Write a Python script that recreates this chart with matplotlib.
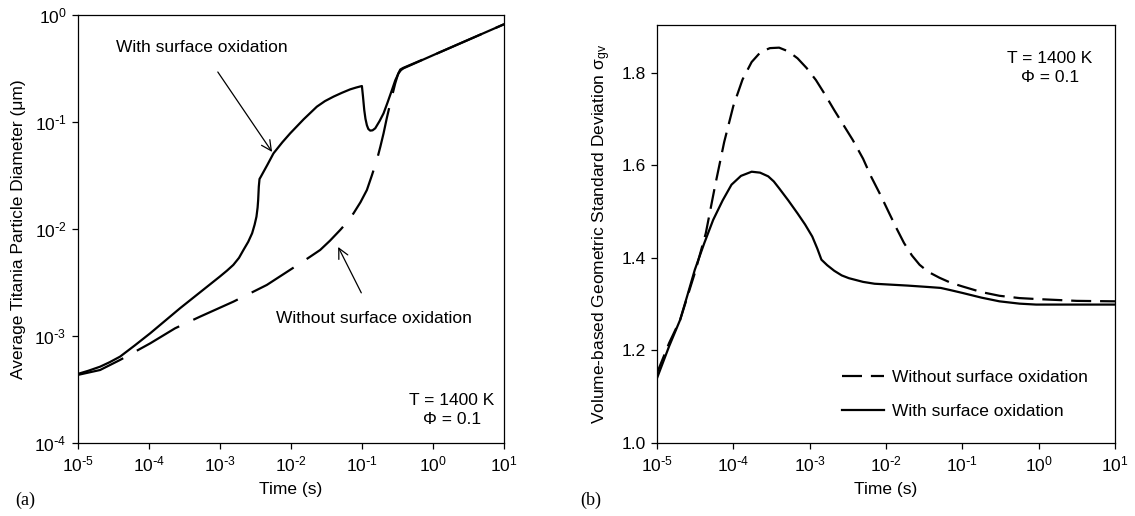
import numpy as np
import matplotlib
matplotlib.use("Agg")
import matplotlib.pyplot as plt
from matplotlib.ticker import FixedLocator, FuncFormatter, NullLocator

plt.rcParams['font.family'] = ['Liberation Sans', 'DejaVu Sans']
plt.rcParams['mathtext.default'] = 'regular'
plt.rcParams['axes.unicode_minus'] = False

# ---------------- data ----------------
# Panel (a): log10(time / s), log10(diameter / um)
a_with_logt = [-5.0, -4.85, -4.685, -4.55, -4.404, -4.2, -3.98, -3.56, -3.0, -2.9, -2.81,
               -2.73, -2.667, -2.6, -2.545, -2.51, -2.484, -2.468, -2.46, -2.451, -2.441,
               -2.427, -2.33, -2.244, -2.12, -2.009, -1.82, -1.634, -1.52, -1.399, -1.28,
               -1.164, -1.08, -1.0, -0.985, -0.967, -0.95, -0.93, -0.91, -0.883, -0.85,
               -0.812, -0.75, -0.695, -0.64, -0.577, -0.53, -0.484, -0.45, -0.413, 0.009, 1.0]
a_with_logd = [-3.355, -3.325, -3.287, -3.245, -3.193, -3.09, -2.975, -2.741, -2.445, -2.39,
               -2.336, -2.27, -2.196, -2.12, -2.04, -1.96, -1.885, -1.80, -1.729, -1.604,
               -1.533, -1.517, -1.40, -1.293, -1.19, -1.106, -0.975, -0.857, -0.805, -0.763,
               -0.727, -0.695, -0.678, -0.664, -0.76, -0.888, -0.97, -1.03, -1.065, -1.081,
               -1.078, -1.059, -0.99, -0.919, -0.82, -0.701, -0.61, -0.545, -0.515, -0.498,
               -0.374, -0.087]
a_without_logt = [-5.0, -4.685, -4.404, -3.98, -3.629, -3.277, -2.808, -2.338, -1.869, -1.73,
                  -1.587, -1.45, -1.305, -1.2, -1.117, -1.02, -0.93, -0.86, -0.789, -0.74,
                  -0.695, -0.65, -0.601, -0.531, -0.49, -0.46, -0.42, 0.009, 1.0]
a_without_logd = [-3.364, -3.318, -3.224, -3.069, -2.928, -2.819, -2.679, -2.523, -2.321, -2.26,
                  -2.196, -2.11, -2.009, -1.93, -1.853, -1.75, -1.636, -1.50, -1.355, -1.23,
                  -1.106, -0.965, -0.826, -0.639, -0.55, -0.51, -0.495, -0.374, -0.087]

# Panel (b): log10(time / s), sigma_gv
b_without_logt = [-5.0, -4.841, -4.697, -4.505, -4.361, -4.24, -4.12, -4.0, -3.88, -3.76,
                  -3.64, -3.52, -3.40, -3.28, -3.159, -3.04, -2.918, -2.8, -2.678, -2.55,
                  -2.437, -2.3, -2.197, -2.07, -1.957, -1.86, -1.764, -1.66, -1.56, -1.45,
                  -1.3, -1.15, -0.995, -0.75, -0.514, -0.25, -0.034, 0.5, 1.0]
b_without_sig = [1.151, 1.216, 1.266, 1.367, 1.453, 1.555, 1.65, 1.728, 1.785, 1.823,
                 1.845, 1.853, 1.854, 1.846, 1.831, 1.81, 1.784, 1.753, 1.719, 1.685,
                 1.655, 1.614, 1.576, 1.535, 1.496, 1.463, 1.432, 1.405, 1.385, 1.370,
                 1.357, 1.346, 1.338, 1.326, 1.318, 1.313, 1.311, 1.307, 1.306]
b_with_logt = [-5.0, -4.841, -4.697, -4.6, -4.505, -4.38, -4.264, -4.14, -4.024, -3.9, -3.76,
               -3.65, -3.543, -3.47, -3.399, -3.28, -3.159, -3.06, -2.966, -2.9, -2.846,
               -2.77, -2.678, -2.58, -2.486, -2.3, -2.149, -1.716, -1.45, -1.284, -1.15,
               -0.995, -0.75, -0.514, -0.25, -0.034, 1.0]
b_with_sig = [1.140, 1.209, 1.266, 1.32, 1.374, 1.432, 1.482, 1.524, 1.558, 1.577, 1.586,
              1.584, 1.576, 1.565, 1.550, 1.524, 1.496, 1.472, 1.446, 1.42, 1.396,
              1.384, 1.372, 1.362, 1.356, 1.348, 1.344, 1.340, 1.337, 1.335, 1.330,
              1.324, 1.314, 1.306, 1.301, 1.299, 1.299]

x_ticks = [1e-5, 1e-4, 1e-3, 1e-2, 1e-1, 1e0, 1e1]
a_y_ticks = [1e-4, 1e-3, 1e-2, 1e-1, 1e0]
b_y_ticks = [1.0, 1.2, 1.4, 1.6, 1.8]

label_with = "With surface oxidation"
label_without = "Without surface oxidation"

FS = 12.5
fig = plt.figure(figsize=(11.35, 5.16), dpi=100)
ax1 = fig.add_axes([77.7 / 1135, 0.1415, 426.3 / 1135, 0.8295])
ax2 = fig.add_axes([657 / 1135, 0.1415, 458 / 1135, 0.8101])

def pow_fmt(v, pos):
    e = int(round(np.log10(v)))
    if e < 0:
        return r'$10^{\text{-}%d}$' % (-e)
    return r'$10^{%d}$' % e

lw = 1.6
# ---- panel a ----
ax1.plot(10 ** np.array(a_with_logt), 10 ** np.array(a_with_logd), color='black', lw=lw,
         solid_joinstyle='round')
ax1.plot(10 ** np.array(a_without_logt), 10 ** np.array(a_without_logd), color='black', lw=lw,
         dashes=(22, 7))
ax1.set_xscale('log'); ax1.set_yscale('log')
ax1.set_xlim(1e-5, 1e1); ax1.set_ylim(1e-4, 1e0)
ax1.xaxis.set_major_locator(FixedLocator(x_ticks))
ax1.yaxis.set_major_locator(FixedLocator(a_y_ticks))
ax1.xaxis.set_minor_locator(NullLocator()); ax1.yaxis.set_minor_locator(NullLocator())
ax1.xaxis.set_major_formatter(FuncFormatter(pow_fmt))
ax1.yaxis.set_major_formatter(FuncFormatter(pow_fmt))
ax1.set_xlabel("Time (s)", fontsize=FS, labelpad=6)
ax1.set_ylabel("Average Titania Particle Diameter (\u03bcm)", fontsize=FS, labelpad=6)

ax1.annotate(label_with, xy=(10 ** -2.264, 10 ** -1.280), xytext=(10 ** -3.258, 10 ** -0.308),
             ha='center', va='center', fontsize=FS,
             arrowprops=dict(arrowstyle='->', lw=0.9, color='black', shrinkA=12, shrinkB=0,
                             mutation_scale=18))
ax1.annotate(label_without, xy=(10 ** -1.334, 10 ** -2.168), xytext=(10 ** -0.83, 10 ** -2.832),
             ha='center', va='center', fontsize=FS,
             arrowprops=dict(arrowstyle='->', lw=0.9, color='black', shrinkA=12, shrinkB=0,
                             mutation_scale=18))
ax1.text(0.877, 0.077, "T = 1400 K\n\u03a6 = 0.1", transform=ax1.transAxes, ha='center',
         va='center', fontsize=FS, linespacing=1.35)

# ---- panel b ----
ax2.plot(10 ** np.array(b_without_logt), b_without_sig, color='black', lw=lw, dashes=(9, 4),
         label=label_without)
ax2.plot(10 ** np.array(b_with_logt), b_with_sig, color='black', lw=lw, label=label_with,
         solid_joinstyle='round')
ax2.set_xscale('log')
ax2.set_xlim(1e-5, 1e1); ax2.set_ylim(1.0, 1.903)
ax2.xaxis.set_major_locator(FixedLocator(x_ticks))
ax2.xaxis.set_minor_locator(NullLocator())
ax2.xaxis.set_major_formatter(FuncFormatter(pow_fmt))
ax2.yaxis.set_major_locator(FixedLocator(b_y_ticks))
ax2.yaxis.set_major_formatter(FuncFormatter(lambda v, p: "%.1f" % v))
ax2.set_xlabel("Time (s)", fontsize=FS, labelpad=6)
ax2.set_ylabel("Volume-based Geometric Standard Deviation \u03c3$_{gv}$", fontsize=FS, labelpad=6)
ax2.text(0.858, 0.897, "T = 1400 K\n\u03a6 = 0.1", transform=ax2.transAxes, ha='center',
         va='center', fontsize=FS, linespacing=1.35)
leg = ax2.legend(loc='center left', bbox_to_anchor=(0.404, 0.116), frameon=False,
                 fontsize=FS, handlelength=2.4, handletextpad=0.5, labelspacing=1.1,
                 borderpad=0, borderaxespad=0)

for ax in (ax1, ax2):
    ax.tick_params(direction='out', length=4, width=0.9, labelsize=FS, pad=4, colors='black')
    for s in ax.spines.values():
        s.set_linewidth(0.9)
        s.set_color('black')

fig.text(15 / 1135, 1 - 500 / 516, "(a)", fontsize=13, family='Liberation Serif', va='center')
fig.text(580 / 1135, 1 - 500 / 516, "(b)", fontsize=13, family='Liberation Serif', va='center')

fig.savefig("out.png", dpi=100)
